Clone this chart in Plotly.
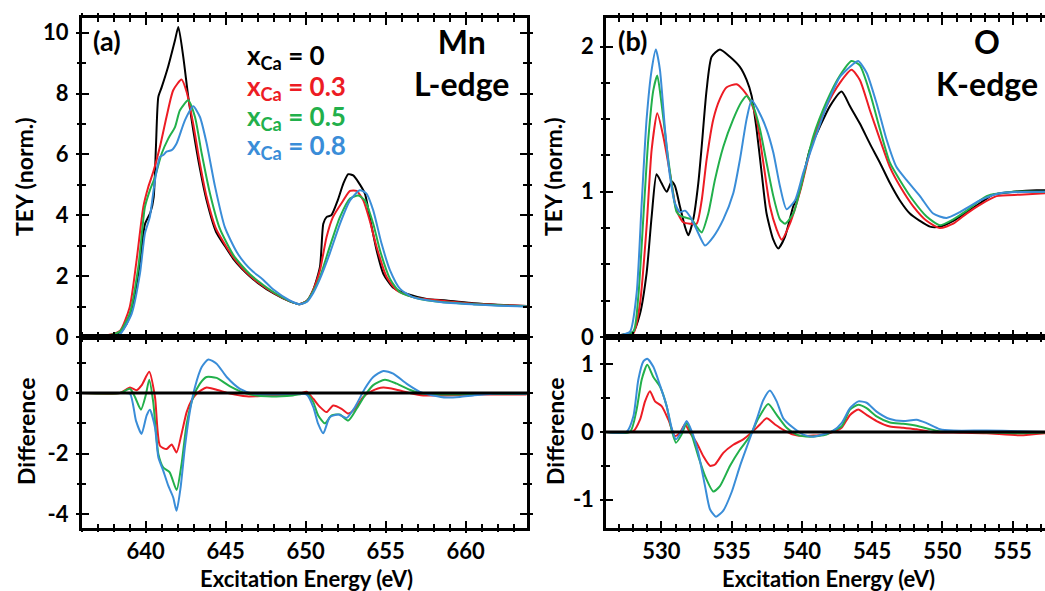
import plotly.graph_objects as go

# ---------------- data: Mn L-edge (TEY) ----------------
mn_e_x0 = [636.0, 637.0, 637.8, 638.4, 638.8, 639.2, 639.6, 639.95, 640.3, 640.5, 640.64, 640.79, 641.0, 641.4, 641.83, 642.04, 642.35, 642.66, 642.97, 643.4, 643.8, 644.4, 645.0, 645.5, 646.0, 646.5, 647.0, 648.0, 649.0, 649.6, 650.06, 650.47, 650.89, 651.1, 651.3, 651.6, 652.0, 652.35, 652.66, 652.97, 653.29, 653.7, 654.0, 654.43, 654.85, 655.47, 656.3, 657.56, 658.8, 660.5, 662.0, 663.8]
mn_v_x0 = [0.0, 0.02, 0.05, 0.16, 0.43, 1.09, 2.3, 3.7, 4.1, 4.6, 6.25, 7.89, 8.21, 8.88, 9.75, 10.19, 9.2, 7.89, 6.8, 5.5, 4.5, 3.45, 2.95, 2.55, 2.25, 2.0, 1.78, 1.43, 1.17, 1.08, 1.18, 1.55, 2.3, 3.72, 3.94, 4.0, 4.49, 5.04, 5.35, 5.31, 5.09, 4.71, 3.94, 2.85, 2.08, 1.62, 1.42, 1.25, 1.2, 1.11, 1.06, 1.02]

mn_e_x3 = [636.0, 637.0, 637.8, 638.4, 639.0, 639.43, 639.85, 640.16, 640.47, 640.89, 641.3, 641.72, 642.24, 642.56, 642.97, 643.39, 643.81, 644.4, 645.0, 645.5, 646.0, 646.5, 647.0, 648.0, 649.0, 649.6, 650.06, 650.47, 650.89, 651.3, 651.7, 652.35, 652.77, 653.18, 653.6, 654.0, 654.43, 655.06, 655.7, 656.7, 658.4, 660.5, 662.0, 663.8]
mn_v_x3 = [0.0, 0.02, 0.08, 0.21, 0.98, 2.52, 4.27, 4.93, 5.42, 6.25, 7.23, 8.11, 8.46, 8.05, 7.0, 5.7, 4.6, 3.55, 3.0, 2.6, 2.28, 2.02, 1.8, 1.45, 1.18, 1.08, 1.18, 1.55, 2.19, 3.28, 3.94, 4.49, 4.8, 4.8, 4.49, 3.83, 2.96, 1.97, 1.53, 1.31, 1.2, 1.09, 1.05, 1.02]

mn_e_x5 = [636.0, 637.0, 637.8, 638.4, 639.0, 639.54, 639.95, 640.26, 640.58, 641.0, 641.41, 641.83, 642.14, 642.66, 643.08, 643.5, 644.02, 644.64, 645.47, 646.0, 646.5, 647.0, 648.0, 649.0, 649.6, 650.06, 650.47, 650.89, 651.5, 652.14, 652.77, 653.29, 653.7, 654.22, 654.64, 655.27, 655.9, 657.14, 658.5, 660.5, 662.0, 663.8]
mn_v_x5 = [0.0, 0.02, 0.07, 0.19, 0.76, 2.3, 4.27, 4.82, 5.26, 6.03, 6.52, 6.9, 7.45, 7.78, 7.23, 6.03, 4.71, 3.55, 2.7, 2.35, 2.07, 1.85, 1.47, 1.18, 1.08, 1.17, 1.5, 1.97, 2.96, 3.94, 4.55, 4.65, 4.49, 3.72, 2.85, 1.91, 1.47, 1.25, 1.15, 1.08, 1.04, 1.01]

mn_e_x8 = [636.0, 637.0, 637.8, 638.4, 639.12, 639.64, 639.95, 640.26, 640.58, 640.89, 641.1, 641.3, 641.62, 641.93, 642.45, 642.97, 643.39, 643.81, 644.33, 644.95, 645.68, 646.2, 646.7, 647.3, 648.0, 649.0, 649.6, 650.06, 650.47, 650.89, 651.5, 652.14, 652.77, 653.39, 653.8, 654.22, 654.74, 655.27, 655.9, 656.7, 658.4, 660.5, 662.0, 663.8]
mn_v_x8 = [0.0, 0.01, 0.04, 0.1, 0.76, 2.08, 3.4, 3.95, 5.15, 5.92, 5.98, 6.09, 6.14, 6.36, 7.12, 7.58, 7.23, 6.36, 4.95, 3.6, 2.8, 2.42, 2.15, 1.9, 1.55, 1.2, 1.08, 1.15, 1.45, 1.91, 2.74, 3.72, 4.49, 4.82, 4.71, 4.16, 3.07, 2.19, 1.58, 1.31, 1.15, 1.07, 1.03, 1.0]

# ---------------- data: Mn L-edge (difference) ----------------
mnd_e_x3 = [636.0, 638.39, 639.02, 639.43, 639.74, 640.22, 640.58, 640.89, 641.3, 641.62, 641.93, 642.24, 642.56, 642.87, 643.18, 643.8, 644.43, 645.27, 646.3, 647.97, 649.64, 650.06, 650.47, 650.89, 651.3, 651.72, 652.24, 652.66, 653.08, 653.6, 654.12, 654.85, 655.68, 656.5, 657.35, 658.8, 661.0, 663.8]
mnd_v_x3 = [0.0, 0.0, 0.18, 0.09, 0.25, 0.7, -0.13, -1.74, -1.85, -1.7, -1.96, -1.35, -0.63, -0.24, -0.02, 0.18, 0.11, -0.02, -0.11, -0.08, -0.02, 0.04, -0.19, -0.46, -0.63, -0.41, -0.52, -0.68, -0.52, -0.13, 0.06, 0.18, 0.11, 0.0, -0.08, -0.08, -0.05, -0.05]

mnd_e_x5 = [636.0, 638.39, 639.02, 639.33, 639.7, 640.0, 640.22, 640.47, 640.79, 641.1, 641.5, 641.93, 642.24, 642.56, 642.97, 643.39, 643.8, 644.43, 645.27, 646.3, 647.56, 649.2, 650.06, 650.47, 650.78, 651.2, 651.62, 652.14, 652.66, 653.18, 653.7, 654.22, 654.95, 655.68, 656.5, 657.35, 658.8, 661.0, 663.8]
mnd_v_x5 = [0.0, 0.0, 0.14, -0.13, -0.55, -0.08, 0.44, -0.3, -2.01, -2.46, -2.62, -3.2, -2.35, -1.02, -0.13, 0.31, 0.53, 0.5, 0.22, -0.02, -0.11, -0.08, -0.02, -0.3, -0.74, -1.0, -0.74, -0.71, -0.91, -0.52, -0.08, 0.26, 0.44, 0.31, 0.11, -0.02, -0.05, -0.03, -0.03]

mnd_e_x8 = [636.0, 638.39, 639.02, 639.39, 639.74, 640.06, 640.26, 640.58, 640.79, 641.1, 641.41, 641.72, 641.93, 642.18, 642.45, 642.77, 643.08, 643.5, 643.91, 644.43, 645.06, 645.89, 646.72, 648.18, 650.06, 650.47, 650.78, 651.1, 651.5, 652.04, 652.56, 653.08, 653.7, 654.22, 654.85, 655.47, 656.3, 657.14, 657.97, 658.8, 659.64, 660.47, 661.7, 663.8]
mnd_v_x8 = [0.0, 0.0, -0.02, -0.91, -1.35, -0.74, -0.55, -1.13, -2.12, -2.57, -3.06, -3.45, -3.89, -3.12, -1.79, -0.58, 0.2, 0.86, 1.11, 0.97, 0.53, 0.14, -0.02, -0.04, -0.05, -0.46, -1.02, -1.33, -0.8, -0.71, -0.82, -0.46, 0.15, 0.53, 0.73, 0.64, 0.31, 0.04, -0.08, -0.15, -0.13, -0.08, -0.02, -0.02]

# ---------------- data: O K-edge (TEY) ----------------
o_e_x0 = [526.05, 527.04, 527.99, 528.47, 528.94, 529.3, 529.65, 530.0, 530.37, 530.72, 530.96, 531.31, 531.67, 531.91, 532.26, 532.62, 532.86, 533.21, 533.57, 534.16, 534.87, 535.58, 536.06, 536.42, 536.77, 537.13, 537.48, 537.96, 538.31, 538.79, 539.38, 539.85, 540.56, 541.28, 541.99, 542.82, 543.41, 544.12, 544.84, 545.55, 546.26, 546.97, 547.68, 548.39, 549.11, 549.82, 550.77, 551.72, 552.66, 553.61, 555.04, 556.7, 557.3]
o_v_x0 = [0.0, 0.013, 0.036, 0.16, 0.44, 0.83, 1.12, 1.06, 1.0, 1.07, 1.04, 0.9, 0.76, 0.7, 0.81, 1.06, 1.31, 1.7, 1.93, 1.98, 1.93, 1.86, 1.77, 1.66, 1.43, 1.13, 0.85, 0.67, 0.61, 0.69, 0.9, 1.01, 1.29, 1.45, 1.59, 1.69, 1.59, 1.47, 1.33, 1.2, 1.06, 0.94, 0.85, 0.8, 0.76, 0.76, 0.8, 0.86, 0.92, 0.98, 1.0, 1.01, 1.01]

o_e_x3 = [526.05, 527.0, 527.99, 528.47, 528.94, 529.3, 529.7, 530.13, 530.6, 531.08, 531.55, 532.03, 532.5, 532.86, 533.21, 533.69, 534.16, 534.64, 535.35, 535.82, 536.3, 536.77, 537.25, 537.72, 538.2, 538.55, 539.14, 539.86, 540.8, 541.75, 542.7, 543.53, 544.12, 544.84, 545.55, 546.26, 546.97, 547.92, 548.87, 549.82, 550.77, 551.72, 552.66, 553.85, 555.51, 557.3]
o_v_x3 = [0.0, 0.01, 0.025, 0.23, 0.76, 1.29, 1.54, 1.38, 1.13, 0.87, 0.79, 0.78, 0.78, 0.94, 1.22, 1.5, 1.64, 1.72, 1.74, 1.7, 1.63, 1.5, 1.2, 0.9, 0.74, 0.67, 0.78, 1.0, 1.36, 1.59, 1.75, 1.84, 1.77, 1.56, 1.36, 1.17, 1.04, 0.9, 0.8, 0.75, 0.78, 0.85, 0.91, 0.97, 0.98, 0.99]

o_e_x5 = [526.05, 527.0, 527.99, 528.35, 528.7, 529.06, 529.42, 529.7, 530.0, 530.37, 530.72, 531.08, 531.43, 531.79, 532.15, 532.5, 532.86, 533.33, 533.8, 534.4, 535.11, 535.7, 536.06, 536.53, 537.01, 537.48, 537.96, 538.43, 538.79, 539.38, 539.86, 540.8, 541.75, 542.7, 543.53, 544.12, 544.84, 545.55, 546.26, 546.97, 547.92, 548.87, 549.82, 550.77, 551.72, 553.14, 555.04, 557.3]
o_v_x5 = [0.0, 0.01, 0.036, 0.28, 0.81, 1.36, 1.7, 1.8, 1.61, 1.31, 1.06, 0.86, 0.83, 0.82, 0.81, 0.76, 0.72, 0.85, 1.08, 1.31, 1.5, 1.62, 1.66, 1.59, 1.43, 1.2, 0.97, 0.81, 0.78, 0.85, 1.01, 1.38, 1.62, 1.8, 1.9, 1.87, 1.68, 1.43, 1.2, 1.08, 0.94, 0.83, 0.77, 0.81, 0.87, 0.97, 1.0, 1.0]

o_e_x8 = [526.05, 527.0, 527.76, 528.23, 528.59, 528.94, 529.3, 529.6, 529.89, 530.25, 530.6, 530.96, 531.31, 531.67, 532.03, 532.5, 533.1, 533.69, 534.4, 535.11, 535.58, 536.06, 536.42, 536.89, 537.48, 537.96, 538.43, 538.9, 539.5, 540.09, 540.8, 541.75, 542.7, 543.65, 544.0, 544.6, 545.31, 546.02, 546.73, 547.45, 548.4, 549.34, 550.29, 551.24, 552.66, 554.09, 557.3]
o_v_x8 = [0.0, 0.01, 0.036, 0.3, 0.92, 1.5, 1.84, 1.98, 1.84, 1.43, 1.11, 0.92, 0.86, 0.87, 0.83, 0.74, 0.63, 0.69, 0.81, 0.99, 1.22, 1.5, 1.63, 1.56, 1.43, 1.27, 1.04, 0.88, 0.94, 1.13, 1.33, 1.59, 1.79, 1.88, 1.9, 1.82, 1.61, 1.36, 1.17, 1.08, 0.97, 0.85, 0.82, 0.86, 0.94, 0.99, 1.0]

# ---------------- data: O K-edge (difference) ----------------
od_e_x3 = [526.05, 528.0, 528.47, 528.83, 529.18, 529.54, 530.01, 530.49, 530.96, 531.32, 531.67, 532.03, 532.5, 532.98, 533.45, 533.81, 534.4, 535.11, 535.82, 536.42, 537.01, 537.49, 538.08, 538.67, 539.38, 540.1, 541.52, 542.23, 542.82, 543.42, 544.01, 544.6, 545.31, 546.26, 547.21, 548.16, 549.11, 550.77, 553.14, 555.51, 557.3]
od_v_x3 = [0.0, 0.01, 0.18, 0.45, 0.6, 0.45, 0.38, 0.18, -0.06, -0.01, 0.11, -0.01, -0.16, -0.36, -0.5, -0.48, -0.31, -0.19, -0.11, -0.01, 0.11, 0.2, 0.11, 0.03, -0.04, -0.06, -0.04, 0.0, 0.06, 0.25, 0.33, 0.25, 0.16, 0.08, 0.06, 0.04, 0.0, -0.01, -0.02, -0.05, -0.02]

od_e_x5 = [526.05, 527.76, 528.23, 528.59, 528.99, 529.42, 529.89, 530.37, 530.72, 531.03, 531.43, 531.79, 532.15, 532.62, 533.1, 533.69, 534.16, 534.88, 535.59, 536.3, 536.9, 537.6, 538.2, 538.91, 539.62, 540.57, 541.75, 542.23, 542.82, 543.42, 544.01, 544.6, 545.31, 546.26, 547.21, 548.16, 549.11, 550.06, 551.96, 555.51, 557.3]
od_v_x5 = [0.0, 0.0, 0.33, 0.77, 0.99, 0.81, 0.67, 0.38, 0.03, -0.16, -0.04, 0.13, -0.04, -0.36, -0.65, -0.88, -0.8, -0.5, -0.26, -0.06, 0.2, 0.41, 0.25, 0.06, -0.04, -0.07, -0.04, 0.02, 0.08, 0.33, 0.4, 0.35, 0.23, 0.14, 0.12, 0.09, 0.04, 0.0, 0.0, -0.02, -0.01]

od_e_x8 = [526.05, 527.52, 528.0, 528.35, 528.71, 528.99, 529.42, 529.89, 530.37, 530.72, 531.03, 531.43, 531.79, 532.15, 532.62, 533.1, 533.45, 533.88, 534.4, 534.99, 535.59, 536.18, 536.77, 537.25, 537.72, 538.2, 538.67, 539.38, 540.1, 540.81, 541.28, 542.23, 542.82, 543.42, 544.01, 544.6, 545.31, 546.26, 547.21, 548.16, 548.87, 549.82, 550.77, 553.14, 555.51, 557.3]
od_v_x8 = [0.0, 0.0, 0.23, 0.77, 1.04, 1.08, 0.96, 0.69, 0.38, 0.06, -0.11, 0.01, 0.16, 0.01, -0.31, -0.8, -1.14, -1.25, -1.16, -0.89, -0.5, -0.16, 0.18, 0.47, 0.61, 0.45, 0.2, 0.06, -0.04, -0.07, -0.05, 0.02, 0.13, 0.35, 0.45, 0.43, 0.3, 0.19, 0.16, 0.18, 0.13, 0.04, 0.02, 0.02, 0.01, 0.0]

# ---------------- labels / ticks ----------------
series_names = ["x<sub>Ca</sub> = 0", "x<sub>Ca</sub> = 0.3", "x<sub>Ca</sub> = 0.5", "x<sub>Ca</sub> = 0.8"]
colors = ["#000000", "#ED1C24", "#22B04B", "#3A8DD8"]
mn_xticks = [640, 645, 650, 655, 660]
o_xticks = [530, 535, 540, 545, 550, 555]
mn_top_yticks = [0, 2, 4, 6, 8, 10]
mn_diff_yticks = [-4, -2, 0]
o_top_yticks = [0, 1, 2]
o_diff_yticks = [-1, 0, 1]

W, H = 1045, 591
FONT = "Lato"

def px(x):
    return x / W

def py(y):
    return 1 - y / H

LX = [px(81.7), px(527)]
RX = [px(606), 1.0]
TOPY = [py(337), py(17.5)]
BOTY = [py(527.5), py(337)]

MN_RANGE = [636.0, 663.83]
O_RANGE = [526.05, 557.3]

fig = go.Figure()

def add_lines(xs, ys, cols, xa, ya):
    for x, y, c in zip(xs, ys, cols):
        fig.add_trace(go.Scatter(x=x, y=y, mode="lines", xaxis=xa, yaxis=ya,
                                 line=dict(color=c, width=2, shape="spline", smoothing=0.6),
                                 showlegend=False, hoverinfo="skip"))

add_lines([mn_e_x0, mn_e_x3, mn_e_x5, mn_e_x8], [mn_v_x0, mn_v_x3, mn_v_x5, mn_v_x8], colors, "x", "y")
add_lines([mnd_e_x3, mnd_e_x5, mnd_e_x8], [mnd_v_x3, mnd_v_x5, mnd_v_x8], colors[1:], "x2", "y2")
add_lines([o_e_x0, o_e_x3, o_e_x5, o_e_x8], [o_v_x0, o_v_x3, o_v_x5, o_v_x8], colors, "x3", "y3")
add_lines([od_e_x3, od_e_x5, od_e_x8], [od_v_x3, od_v_x5, od_v_x8], colors[1:], "x4", "y4")

# dummy traces so the overlay (inward tick) axes get drawn
for i in range(5, 9):
    fig.add_trace(go.Scatter(x=[None], y=[None], xaxis=f"x{i}", yaxis=f"y{i}",
                             showlegend=False, hoverinfo="skip"))

tickfont = dict(family=FONT, size=22, color="black", weight="bold")


def minor_vals(lo, hi, step):
    vals = []
    v = lo
    while v <= hi + 1e-9:
        vals.append(round(v, 4))
        v += step
    return vals


def make_axis(domain, rng, tickvals, minor, anchor, labels, mirror, inward=False, overlay=None, standoff=6):
    d = dict(domain=domain, range=rng, anchor=anchor, showgrid=False, zeroline=False,
             automargin=False, fixedrange=True,
             tickmode="array", tickvals=tickvals,
             ticktext=[str(t) for t in tickvals],
             tickcolor="black", tickwidth=2)
    if inward:
        d.update(ticks="inside", ticklen=7, showline=False, showticklabels=False,
                 mirror=mirror, overlaying=overlay,
                 minor=dict(ticks="inside", ticklen=4, tickwidth=2, tickcolor="black",
                            tickmode="array", tickvals=minor))
    else:
        d.update(ticks="outside", ticklen=3, showline=True, linecolor="black", linewidth=2.5,
                 mirror=mirror, showticklabels=labels, tickfont=tickfont,
                 ticklabelstandoff=standoff,
                 minor=dict(ticks="outside", ticklen=2, tickwidth=2, tickcolor="black",
                            tickmode="array", tickvals=minor))
    return d

mn_minor_x = minor_vals(636, 663, 1)
o_minor_x = minor_vals(527, 557, 1)

layout_axes = dict(
    xaxis=make_axis(LX, MN_RANGE, mn_xticks, mn_minor_x, "y", False, "ticks"),
    yaxis=make_axis(TOPY, [0, 10.5], mn_top_yticks, minor_vals(0, 10, 1), "x", True, "ticks", standoff=3),
    xaxis2=make_axis(LX, MN_RANGE, mn_xticks, mn_minor_x, "y2", True, "ticks", standoff=-1),
    yaxis2=make_axis(BOTY, [-4.44, 1.85], mn_diff_yticks, minor_vals(-4, 1, 1), "x2", True, "ticks", standoff=3),
    xaxis3=make_axis(RX, O_RANGE, o_xticks, o_minor_x, "y3", False, "ticks"),
    yaxis3=make_axis(TOPY, [0, 2.2], o_top_yticks, minor_vals(0, 2, 0.25), "x3", True, False, standoff=2),
    xaxis4=make_axis(RX, O_RANGE, o_xticks, o_minor_x, "y4", True, "ticks", standoff=-1),
    yaxis4=make_axis(BOTY, [-1.41, 1.40], o_diff_yticks, minor_vals(-1, 1, 0.5), "x4", True, False, standoff=2),
    xaxis5=make_axis(LX, MN_RANGE, mn_xticks, mn_minor_x, "y5", False, "ticks", inward=True, overlay="x"),
    yaxis5=make_axis(TOPY, [0, 10.5], mn_top_yticks, minor_vals(0, 10, 1), "x5", False, "ticks", inward=True, overlay="y"),
    xaxis6=make_axis(LX, MN_RANGE, mn_xticks, mn_minor_x, "y6", False, "ticks", inward=True, overlay="x2"),
    yaxis6=make_axis(BOTY, [-4.44, 1.85], mn_diff_yticks, minor_vals(-4, 1, 1), "x6", False, "ticks", inward=True, overlay="y2"),
    xaxis7=make_axis(RX, O_RANGE, o_xticks, o_minor_x, "y7", False, "ticks", inward=True, overlay="x3"),
    yaxis7=make_axis(TOPY, [0, 2.2], o_top_yticks, minor_vals(0, 2, 0.25), "x7", False, False, inward=True, overlay="y3"),
    xaxis8=make_axis(RX, O_RANGE, o_xticks, o_minor_x, "y8", False, "ticks", inward=True, overlay="x4"),
    yaxis8=make_axis(BOTY, [-1.41, 1.40], o_diff_yticks, minor_vals(-1, 1, 0.5), "x8", False, False, inward=True, overlay="y4"),
)

ann = []

def text(x, y, s, size, color="black", xanchor="center", yanchor="middle", angle=0, align="center"):
    ann.append(dict(x=px(x), y=py(y), xref="paper", yref="paper", text=s, showarrow=False,
                    xanchor=xanchor, yanchor=yanchor, textangle=angle, align=align,
                    font=dict(family=FONT, size=size, color=color, weight="bold")))

# axis titles
text(24, 177, "TEY (norm.)", 23, angle=-90)
text(26, 432, "Difference", 23, angle=-90)
text(553, 177, "TEY (norm.)", 23, angle=-90)
text(555, 432, "Difference", 23, angle=-90)
text(306, 578, "Excitation Energy (eV)", 22)
text(828, 578, "Excitation Energy (eV)", 22)

# panel labels
text(91, 40, "(a)", 27, xanchor="left")
text(616, 40, "(b)", 27, xanchor="left")
text(461, 63, "Mn<br>L-edge", 32)
text(987, 63, "O<br>K-edge", 32)

# legend as coloured text
for i, (name, c) in enumerate(zip(series_names, colors)):
    text(245, 57 + 30 * i, name, 26, color=c, xanchor="left")

shapes = [
    dict(type="line", xref="x2 domain", yref="y2", x0=0, x1=1, y0=0, y1=0,
         line=dict(color="black", width=3), layer="above"),
    dict(type="line", xref="x4 domain", yref="y4", x0=0, x1=1, y0=0, y1=0,
         line=dict(color="black", width=3), layer="above"),
]

fig.update_layout(width=W, height=H, margin=dict(l=0, r=0, t=0, b=0, autoexpand=False),
                  paper_bgcolor="white", plot_bgcolor="rgba(0,0,0,0)",
                  annotations=ann, shapes=shapes, showlegend=False,
                  **layout_axes)

fig.write_html("out.html")
